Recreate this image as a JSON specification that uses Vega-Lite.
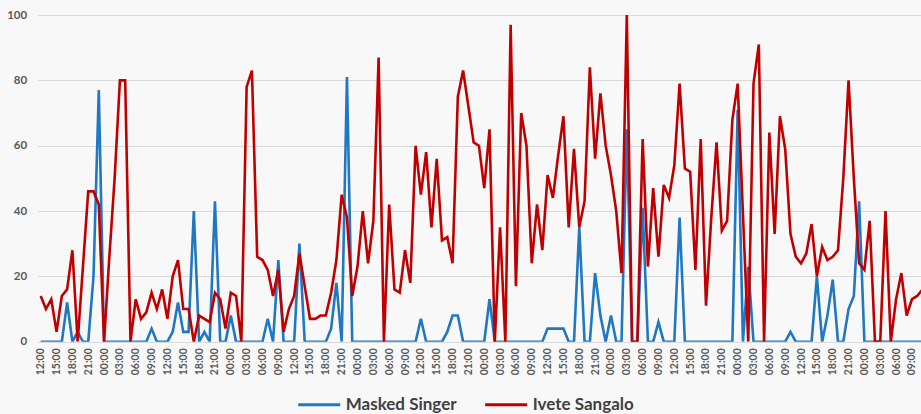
{
  "$schema": "https://vega.github.io/schema/vega-lite/v6.json",
  "autosize": {"type": "none"},
  "padding": {"left": 37.7, "top": 15, "right": 0, "bottom": 72.3},
  "width": 883.3,
  "height": 326.7,
  "background": "#f8f8f8",
  "config": {
    "view": {"stroke": null},
    "font": "Lato"
  },
  "data": {"values": [
    {"hour":0,"ms":0,"iv":14},{"hour":1,"ms":0,"iv":10},{"hour":2,"ms":0,"iv":13},{"hour":3,"ms":0,"iv":3},
    {"hour":4,"ms":0,"iv":14},{"hour":5,"ms":12,"iv":16},{"hour":6,"ms":0,"iv":28},{"hour":7,"ms":3,"iv":0},
    {"hour":8,"ms":0,"iv":23},{"hour":9,"ms":0,"iv":46},{"hour":10,"ms":20,"iv":46},{"hour":11,"ms":77,"iv":42},
    {"hour":12,"ms":0,"iv":0},{"hour":13,"ms":0,"iv":26},{"hour":14,"ms":0,"iv":50},{"hour":15,"ms":0,"iv":80},
    {"hour":16,"ms":0,"iv":80},{"hour":17,"ms":0,"iv":0},{"hour":18,"ms":0,"iv":13},{"hour":19,"ms":0,"iv":7},
    {"hour":20,"ms":0,"iv":9},{"hour":21,"ms":4,"iv":15},{"hour":22,"ms":0,"iv":10},{"hour":23,"ms":0,"iv":16},
    {"hour":24,"ms":0,"iv":7},{"hour":25,"ms":3,"iv":20},{"hour":26,"ms":12,"iv":25},{"hour":27,"ms":3,"iv":10},
    {"hour":28,"ms":3,"iv":10},{"hour":29,"ms":40,"iv":0},{"hour":30,"ms":0,"iv":8},{"hour":31,"ms":3,"iv":7},
    {"hour":32,"ms":0,"iv":6},{"hour":33,"ms":43,"iv":15},{"hour":34,"ms":0,"iv":13},{"hour":35,"ms":0,"iv":4},
    {"hour":36,"ms":8,"iv":15},{"hour":37,"ms":0,"iv":14},{"hour":38,"ms":0,"iv":0},{"hour":39,"ms":0,"iv":78},
    {"hour":40,"ms":0,"iv":83},{"hour":41,"ms":0,"iv":26},{"hour":42,"ms":0,"iv":25},{"hour":43,"ms":7,"iv":22},
    {"hour":44,"ms":0,"iv":14},{"hour":45,"ms":25,"iv":22},{"hour":46,"ms":0,"iv":3},{"hour":47,"ms":0,"iv":10},
    {"hour":48,"ms":0,"iv":14},{"hour":49,"ms":30,"iv":27},{"hour":50,"ms":0,"iv":17},{"hour":51,"ms":0,"iv":7},
    {"hour":52,"ms":0,"iv":7},{"hour":53,"ms":0,"iv":8},{"hour":54,"ms":0,"iv":8},{"hour":55,"ms":4,"iv":15},
    {"hour":56,"ms":18,"iv":25},{"hour":57,"ms":0,"iv":45},{"hour":58,"ms":81,"iv":38},{"hour":59,"ms":0,"iv":14},
    {"hour":60,"ms":0,"iv":23},{"hour":61,"ms":0,"iv":40},{"hour":62,"ms":0,"iv":24},{"hour":63,"ms":0,"iv":37},
    {"hour":64,"ms":0,"iv":87},{"hour":65,"ms":0,"iv":0},{"hour":66,"ms":0,"iv":42},{"hour":67,"ms":0,"iv":16},
    {"hour":68,"ms":0,"iv":15},{"hour":69,"ms":0,"iv":28},{"hour":70,"ms":0,"iv":18},{"hour":71,"ms":0,"iv":60},
    {"hour":72,"ms":7,"iv":45},{"hour":73,"ms":0,"iv":58},{"hour":74,"ms":0,"iv":35},{"hour":75,"ms":0,"iv":56},
    {"hour":76,"ms":0,"iv":31},{"hour":77,"ms":3,"iv":32},{"hour":78,"ms":8,"iv":24},{"hour":79,"ms":8,"iv":75},
    {"hour":80,"ms":0,"iv":83},{"hour":81,"ms":0,"iv":72},{"hour":82,"ms":0,"iv":61},{"hour":83,"ms":0,"iv":60},
    {"hour":84,"ms":0,"iv":47},{"hour":85,"ms":13,"iv":65},{"hour":86,"ms":0,"iv":0},{"hour":87,"ms":0,"iv":35},
    {"hour":88,"ms":0,"iv":0},{"hour":89,"ms":0,"iv":97},{"hour":90,"ms":0,"iv":17},{"hour":91,"ms":0,"iv":70},
    {"hour":92,"ms":0,"iv":60},{"hour":93,"ms":0,"iv":24},{"hour":94,"ms":0,"iv":42},{"hour":95,"ms":0,"iv":28},
    {"hour":96,"ms":4,"iv":51},{"hour":97,"ms":4,"iv":44},{"hour":98,"ms":4,"iv":57},{"hour":99,"ms":4,"iv":69},
    {"hour":100,"ms":0,"iv":35},{"hour":101,"ms":0,"iv":59},{"hour":102,"ms":35,"iv":35},{"hour":103,"ms":0,"iv":43},
    {"hour":104,"ms":0,"iv":84},{"hour":105,"ms":21,"iv":56},{"hour":106,"ms":8,"iv":76},{"hour":107,"ms":0,"iv":60},
    {"hour":108,"ms":8,"iv":51},{"hour":109,"ms":0,"iv":40},{"hour":110,"ms":0,"iv":21},{"hour":111,"ms":65,"iv":100},
    {"hour":112,"ms":0,"iv":0},{"hour":113,"ms":0,"iv":0},{"hour":114,"ms":41,"iv":62},{"hour":115,"ms":0,"iv":23},
    {"hour":116,"ms":0,"iv":47},{"hour":117,"ms":6,"iv":26},{"hour":118,"ms":0,"iv":48},{"hour":119,"ms":0,"iv":44},
    {"hour":120,"ms":0,"iv":54},{"hour":121,"ms":38,"iv":79},{"hour":122,"ms":0,"iv":53},{"hour":123,"ms":0,"iv":52},
    {"hour":124,"ms":0,"iv":22},{"hour":125,"ms":0,"iv":62},{"hour":126,"ms":0,"iv":11},{"hour":127,"ms":0,"iv":38},
    {"hour":128,"ms":0,"iv":61},{"hour":129,"ms":0,"iv":34},{"hour":130,"ms":0,"iv":37},{"hour":131,"ms":0,"iv":68},
    {"hour":132,"ms":71,"iv":79},{"hour":133,"ms":0,"iv":39},{"hour":134,"ms":23,"iv":0},{"hour":135,"ms":0,"iv":79},
    {"hour":136,"ms":0,"iv":91},{"hour":137,"ms":0,"iv":0},{"hour":138,"ms":0,"iv":64},{"hour":139,"ms":0,"iv":33},
    {"hour":140,"ms":0,"iv":69},{"hour":141,"ms":0,"iv":59},{"hour":142,"ms":3,"iv":33},{"hour":143,"ms":0,"iv":26},
    {"hour":144,"ms":0,"iv":24},{"hour":145,"ms":0,"iv":27},{"hour":146,"ms":0,"iv":36},{"hour":147,"ms":20,"iv":20},
    {"hour":148,"ms":0,"iv":29},{"hour":149,"ms":8,"iv":25},{"hour":150,"ms":19,"iv":26},{"hour":151,"ms":0,"iv":28},
    {"hour":152,"ms":0,"iv":50},{"hour":153,"ms":10,"iv":80},{"hour":154,"ms":14,"iv":50},{"hour":155,"ms":43,"iv":24},
    {"hour":156,"ms":0,"iv":22},{"hour":157,"ms":0,"iv":37},{"hour":158,"ms":0,"iv":0},{"hour":159,"ms":0,"iv":0},
    {"hour":160,"ms":0,"iv":40},{"hour":161,"ms":0,"iv":0},{"hour":162,"ms":0,"iv":13},{"hour":163,"ms":0,"iv":21},
    {"hour":164,"ms":0,"iv":8},{"hour":165,"ms":0,"iv":13},{"hour":166,"ms":0,"iv":14},{"hour":167,"ms":0,"iv":16}
  ]},
  "transform": [
    {"fold": ["ms", "iv"], "as": ["series", "value"]}
  ],
  "mark": {"type": "line", "strokeWidth": 2.6, "clip": true},
  "encoding": {
    "x": {
      "field": "hour",
      "type": "quantitative",
      "scale": {"domain": [-0.57, 166.72], "nice": false, "zero": false},
      "axis": {
        "title": null,
        "values": [0,3,6,9,12,15,18,21,24,27,30,33,36,39,42,45,48,51,54,57,60,63,66,69,72,75,78,81,84,87,90,93,96,99,102,105,108,111,114,117,120,123,126,129,132,135,138,141,144,147,150,153,156,159,162,165],
        "labelExpr": "(((datum.value + 12) % 24) < 10 ? '0' : '') + ((datum.value + 12) % 24) + ':00'",
        "labelAngle": -90,
        "labelFontSize": 10.5,
        "labelFontWeight": "bold",
        "labelColor": "#595959",
        "labelPadding": 6,
        "labelOverlap": false,
        "labelFlush": false,
        "labelBound": false,
        "ticks": false,
        "domain": false,
        "grid": false
      }
    },
    "y": {
      "field": "value",
      "type": "quantitative",
      "scale": {"domain": [0, 100], "nice": false},
      "axis": {
        "title": null,
        "values": [0, 20, 40, 60, 80, 100],
        "labelFontSize": 11.5,
        "labelFontWeight": "bold",
        "labelColor": "#595959",
        "labelPadding": 11,
        "ticks": false,
        "domain": false,
        "grid": true,
        "gridColor": "#d9d9d9",
        "gridWidth": 1
      }
    },
    "color": {
      "field": "series",
      "type": "nominal",
      "scale": {"domain": ["ms", "iv"], "range": ["#1f78c1", "#c00000"]},
      "legend": {
        "title": null,
        "orient": "none",
        "direction": "horizontal",
        "legendX": 259,
        "legendY": 367,
        "padding": 0,
        "symbolType": "stroke",
        "symbolSize": 1764,
        "symbolStrokeWidth": 3,
        "labelExpr": "datum.value == 'ms' ? 'Masked Singer' : 'Ivete Sangalo'",
        "labelFontSize": 17,
        "labelFontWeight": "bold",
        "labelColor": "#404040",
        "labelOffset": 4,
        "columnPadding": 22
      }
    }
  }
}
